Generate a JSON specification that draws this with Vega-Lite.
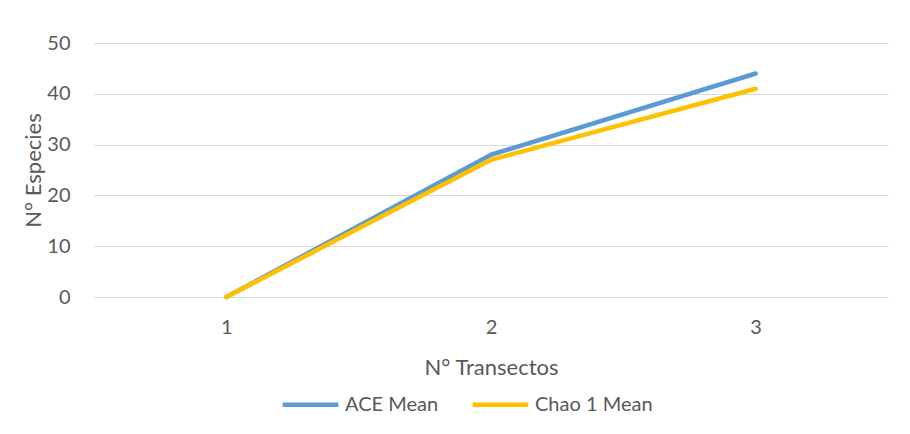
{
  "$schema": "https://vega.github.io/schema/vega-lite/v6.json",
  "width": 794,
  "height": 254,
  "autosize": {"type": "none"},
  "padding": {"left": 94, "top": 43, "right": 22, "bottom": 137},
  "background": "#ffffff",
  "config": {
    "font": "Lato",
    "view": {"stroke": null},
    "axis": {
      "labelColor": "#595959",
      "titleColor": "#595959",
      "labelFont": "Lato",
      "titleFont": "Lato",
      "titleFontWeight": "normal",
      "ticks": false
    }
  },
  "data": {
    "values": [
      {"transecto": "1", "serie": "ACE Mean", "especies": 0},
      {"transecto": "2", "serie": "ACE Mean", "especies": 28},
      {"transecto": "3", "serie": "ACE Mean", "especies": 44},
      {"transecto": "1", "serie": "Chao 1 Mean", "especies": 0},
      {"transecto": "2", "serie": "Chao 1 Mean", "especies": 27},
      {"transecto": "3", "serie": "Chao 1 Mean", "especies": 41}
    ]
  },
  "mark": {"type": "line", "strokeWidth": 4.5, "strokeCap": "round", "strokeJoin": "round"},
  "encoding": {
    "x": {
      "field": "transecto",
      "type": "ordinal",
      "scale": {"type": "point", "padding": 0.5},
      "axis": {
        "title": "N° Transectos",
        "labelAngle": 0,
        "labelFontSize": 20,
        "labelPadding": 20,
        "titleFontSize": 22,
        "titleX": 397,
        "titleY": 70,
        "titleAlign": "center",
        "titleBaseline": "middle",
        "domainColor": "#d9d9d9",
        "domainWidth": 1,
        "grid": false
      }
    },
    "y": {
      "field": "especies",
      "type": "quantitative",
      "scale": {"domain": [0, 50]},
      "axis": {
        "title": "N° Especies",
        "values": [0, 10, 20, 30, 40, 50],
        "labelFontSize": 20,
        "labelPadding": 24,
        "titleFontSize": 22,
        "titleX": -61,
        "titleY": 127,
        "titleAlign": "center",
        "titleBaseline": "middle",
        "titleAngle": -90,
        "domain": false,
        "grid": true,
        "gridColor": "#d9d9d9",
        "gridWidth": 1
      }
    },
    "color": {
      "field": "serie",
      "type": "nominal",
      "scale": {"domain": ["ACE Mean", "Chao 1 Mean"], "range": ["#5B9BD5", "#FFC000"]},
      "legend": {
        "title": null,
        "orient": "none",
        "direction": "horizontal",
        "legendX": 186,
        "legendY": 331,
        "symbolType": "stroke",
        "symbolSize": 3100,
        "symbolStrokeWidth": 4.5,
        "labelFontSize": 20,
        "labelColor": "#595959",
        "labelFont": "Lato",
        "labelOffset": 4,
        "columnPadding": 24
      }
    }
  }
}
